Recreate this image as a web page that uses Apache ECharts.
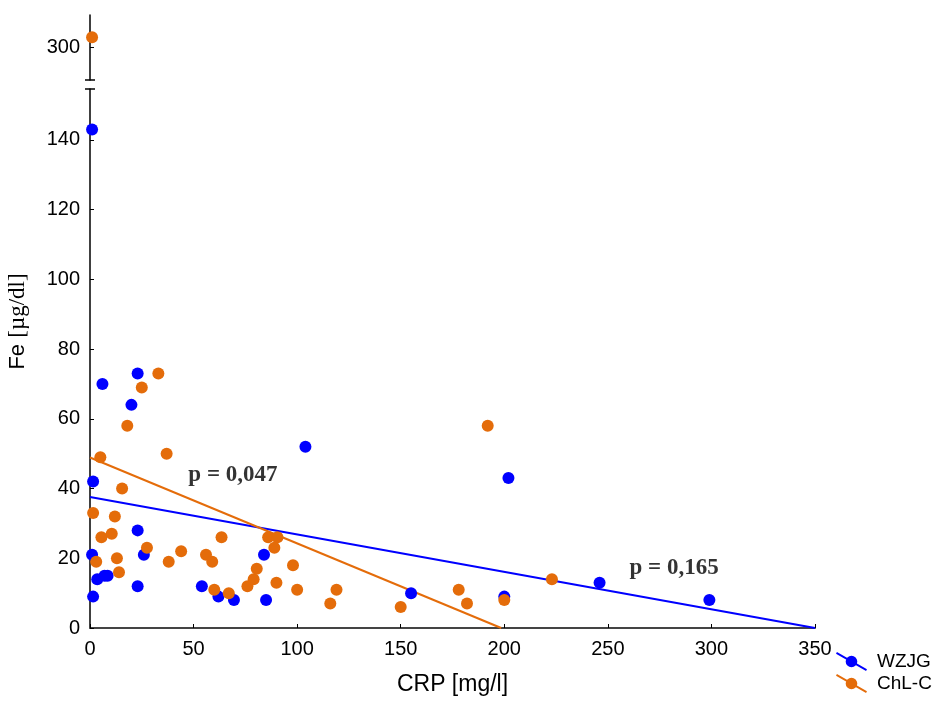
<!DOCTYPE html>
<html><head><meta charset="utf-8">
<script src="https://cdn.jsdelivr.net/npm/echarts@6/dist/echarts.min.js"></script>
<style>html,body{margin:0;padding:0;background:#fff}#c{width:939px;height:701px}</style>
</head><body><div id="c"></div>
<script>
// ---- data ----
const seriesNames = ['WZJG', 'ChL-C'];
const wzjgCRP = [1, 1.5, 1, 1.5, 3.5, 7, 8.5, 6, 23, 20, 23, 26, 23, 54, 62, 69.5, 84, 85, 104, 155, 202, 200, 246, 299];
const wzjgFe  = [143, 42, 21, 9, 14, 15, 15, 70, 73, 64, 28, 21, 12, 12, 9, 8, 21, 8, 52, 10, 43, 9, 13, 8];
const chlcCRP = [1, 33, 25, 18, 5, 37, 15.5, 1.5, 12, 5.5, 10.5, 27.5, 3, 13, 14, 38, 44, 63.5, 56, 59, 60, 67, 76, 79, 80.5, 86, 90.5, 89, 90, 98, 100, 116, 119, 150, 178, 182, 200, 192, 223];
const chlcFe  = [303, 73, 69, 58, 49, 50, 40, 33, 32, 26, 27, 23, 19, 20, 16, 19, 22, 26, 21, 19, 11, 10, 12, 14, 17, 26, 26, 23, 13, 18, 11, 7, 11, 6, 11, 7, 8, 58, 14];
// regression lines (endpoints)
const wzjgFitCRP = [0, 350];
const wzjgFitFe  = [37.6, 0];
const chlcFitCRP = [0, 198.5];
const chlcFitFe  = [48.9, 0];
// annotations
const pTexts = ['p = 0,047', 'p = 0,165'];
const pCRP = [69, 282];
const pFe = [44, 17.1];
// axes
const xTicks = [0, 50, 100, 150, 200, 250, 300, 350];
const yLowTicks = [0, 20, 40, 60, 80, 100, 120, 140];
const yHighTicks = [300];
const yLowRange = [0, 154.6];
const yHighRange = [290.8, 309.3];

const BLUE = '#0000FF', ORANGE = '#E46C0A';
const SANS = 'Liberation Sans, Arial, sans-serif';
const SERIF = 'Liberation Serif, Times New Roman, serif';

function pairs(xs, ys, filt) {
  const out = [];
  for (let i = 0; i < xs.length; i++) if (!filt || filt(ys[i])) out.push([xs[i], ys[i]]);
  return out;
}
const isHigh = v => v > yLowRange[1];

function legendIcon() {
  return 'path://M0.5,-0.87 L32.5,17.63 L31.5,19.37 L-0.5,0.87 Z ' +
    'M22.2,9.25 A6.2,6.2 0 1 1 9.8,9.25 A6.2,6.2 0 1 1 22.2,9.25 Z';
}

const chart = echarts.init(document.getElementById('c'), null, {renderer: 'canvas'});
const option = {
  backgroundColor: '#fff',
  animation: false,
  grid: [
    {left: 90, right: 124, top: 89, bottom: 71},
    {left: 90, right: 124, top: 15, height: 65}
  ],
  xAxis: [
    {
      gridIndex: 0, type: 'value', min: 0, max: 350, interval: 50,
      name: 'CRP [mg/l]', nameLocation: 'middle', nameGap: 45,
      nameTextStyle: {fontFamily: SANS, fontSize: 23, color: '#000'},
      axisLine: {show: true, onZero: false, lineStyle: {color: '#444', width: 2}},
      axisTick: {show: true, inside: true, length: 4, lineStyle: {color: '#000', width: 1}},
      axisLabel: {fontFamily: SANS, fontSize: 20, color: '#000', margin: 11},
      splitLine: {show: false}
    },
    {
      gridIndex: 1, type: 'value', min: 0, max: 350, interval: 50, show: false
    }
  ],
  yAxis: [
    {
      gridIndex: 0, type: 'value', min: yLowRange[0], max: yLowRange[1],
      axisLine: {show: true, onZero: false, lineStyle: {color: '#000', width: 1.5}},
      axisTick: {show: true, inside: true, length: 4, customValues: yLowTicks, lineStyle: {color: '#000', width: 1}},
      axisLabel: {fontFamily: SANS, fontSize: 20, color: '#000', margin: 10, customValues: yLowTicks},
      splitLine: {show: false}
    },
    {
      gridIndex: 1, type: 'value', min: yHighRange[0], max: yHighRange[1],
      axisLine: {show: true, onZero: false, lineStyle: {color: '#000', width: 1.5}},
      axisTick: {show: true, inside: true, length: 4, customValues: yHighTicks, lineStyle: {color: '#000', width: 1}},
      axisLabel: {fontFamily: SANS, fontSize: 20, color: '#000', margin: 10, customValues: yHighTicks},
      splitLine: {show: false}
    }
  ],
  legend: {
    orient: 'vertical', left: 836, top: 652, padding: 0,
    itemWidth: 33, itemHeight: 19, itemGap: 3,
    textStyle: {fontFamily: SANS, fontSize: 19, color: '#000', padding: [0, 0, 0, 4]},
    data: seriesNames.map(n => ({name: n, icon: legendIcon()}))
  },
  series: [
    {
      name: 'WZJG fit', type: 'line', xAxisIndex: 0, yAxisIndex: 0,
      data: pairs(wzjgFitCRP, wzjgFitFe), symbol: 'none', silent: true,
      lineStyle: {color: BLUE, width: 2}, z: 2
    },
    {
      name: 'ChL-C fit', type: 'line', xAxisIndex: 0, yAxisIndex: 0,
      data: pairs(chlcFitCRP, chlcFitFe), symbol: 'none', silent: true,
      lineStyle: {color: ORANGE, width: 2}, z: 2
    },
    {
      name: seriesNames[0], type: 'scatter', xAxisIndex: 0, yAxisIndex: 0, clip: false,
      data: pairs(wzjgCRP, wzjgFe, v => !isHigh(v)), symbolSize: 12,
      itemStyle: {color: BLUE, opacity: 1}, z: 3
    },
    {
      name: seriesNames[1], type: 'scatter', xAxisIndex: 0, yAxisIndex: 0, clip: false,
      data: pairs(chlcCRP, chlcFe, v => !isHigh(v)), symbolSize: 12,
      itemStyle: {color: ORANGE, opacity: 1}, z: 4
    },
    {
      name: seriesNames[1], type: 'scatter', xAxisIndex: 1, yAxisIndex: 1, clip: false,
      data: pairs(chlcCRP, chlcFe, isHigh), symbolSize: 12,
      itemStyle: {color: ORANGE, opacity: 1}, z: 4
    },
    {
      name: 'notes', type: 'scatter', xAxisIndex: 0, yAxisIndex: 0, silent: true,
      symbolSize: 1, itemStyle: {color: 'rgba(0,0,0,0)'},
      data: pTexts.map((t, i) => ({value: [pCRP[i], pFe[i]], name: t})),
      label: {
        show: true, position: 'inside', formatter: p => p.name,
        fontFamily: SERIF, fontWeight: 'bold', fontSize: 23, color: '#000'
      }, z: 5
    }
  ]
};
chart.setOption(option);

// decorations: axis break marks and y-axis title
const yBreakLow = chart.convertToPixel({yAxisIndex: 0}, yLowRange[1]);
const yBreakHigh = chart.convertToPixel({yAxisIndex: 1}, yHighRange[0]);
const xAxisPx = chart.convertToPixel({xAxisIndex: 0}, 0);
const yLowBottom = chart.convertToPixel({yAxisIndex: 0}, 0);
const yHighTop = chart.convertToPixel({yAxisIndex: 1}, yHighRange[1]);
chart.setOption({
  graphic: [
    {type: 'line', shape: {x1: xAxisPx - 5, y1: yBreakLow, x2: xAxisPx + 5, y2: yBreakLow}, style: {stroke: '#000', lineWidth: 1.5}},
    {type: 'line', shape: {x1: xAxisPx - 5, y1: yBreakHigh, x2: xAxisPx + 5, y2: yBreakHigh}, style: {stroke: '#000', lineWidth: 1.5}},
    {
      type: 'text', x: 18, y: (yLowBottom + yHighTop) / 2, rotation: Math.PI / 2,
      style: {
        text: '{a|Fe }{b|[µg/dl]}', align: 'center', verticalAlign: 'middle',
        rich: {
          a: {fontFamily: SANS, fontSize: 22, fill: '#000'},
          b: {fontFamily: SERIF, fontSize: 23, fill: '#000'}
        }
      }
    }
  ]
});
</script>
</body></html>
